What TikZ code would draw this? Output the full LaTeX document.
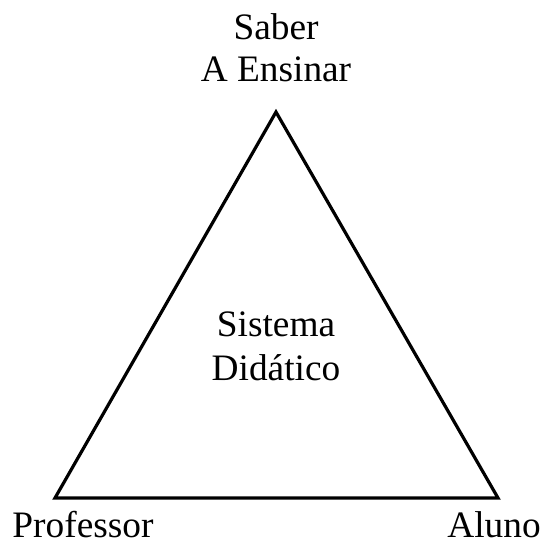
\documentclass[tikz,border=0pt]{standalone}
\usepackage{fontspec}
\setmainfont{Liberation Serif}
\begin{document}
\begin{tikzpicture}[x=0.75pt,y=-0.75pt,
  lbl/.style={font=\fontsize{28}{34}\selectfont, inner sep=0pt, anchor=base},
  tri/.style={draw=black, line width=2.4pt, line join=miter}]
\useasboundingbox (0,0) rectangle (543,545);
\coordinate (T) at (276,112);
\coordinate (L) at (55,498);
\coordinate (R) at (498,498);
\draw[tri] (T) -- (L) -- (R) -- cycle;
\node[lbl] (s1) at (276,40) {Saber};
\node[lbl] (s2) at (276,82) {A Ensinar};
\node[lbl] (c1) at (276,336) {Sistema};
\node[lbl] (c2) at (276,380) {Didático};
\node[lbl] (p) at (83,537) {Professor};
\node[lbl] (a) at (494,537) {Aluno};
\end{tikzpicture}
\end{document}
